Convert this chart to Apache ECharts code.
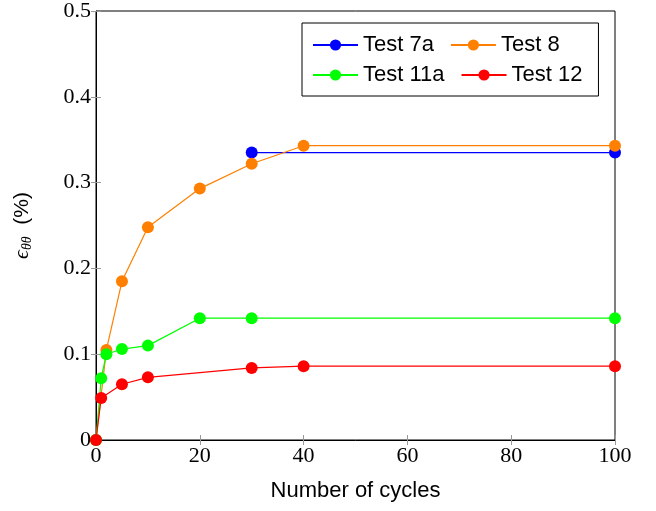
<!DOCTYPE html>
<html>
<head>
<meta charset="utf-8">
<script src="https://cdn.jsdelivr.net/npm/echarts@6/dist/echarts.min.js"></script>
<style>
  html, body { margin: 0; padding: 0; background: #fff; }
  #chart { width: 656px; height: 511px; }
</style>
</head>
<body>
<div id="chart"></div>
<script>
// data: [cycles, strain %]
const test7a = [[30, 0.335], [100, 0.335]];
const test8 = [[0, 0], [2, 0.105], [5, 0.185], [10, 0.248], [20, 0.293], [30, 0.322], [40, 0.343], [100, 0.343]];
const test11a = [[0, 0], [1, 0.072], [2, 0.100], [5, 0.106], [10, 0.110], [20, 0.142], [30, 0.142], [100, 0.142]];
const test12 = [[0, 0], [1, 0.049], [5, 0.065], [10, 0.073], [30, 0.084], [40, 0.086], [100, 0.086]];
const seriesNames = ['Test 7a', 'Test 8', 'Test 11a', 'Test 12'];
const seriesColors = ['#0000ff', '#ff8000', '#00ff00', '#ff0000'];

const serif = '"Liberation Serif", "DejaVu Serif", serif';
const sans = '"Liberation Sans", "DejaVu Sans", sans-serif';

const chart = echarts.init(document.getElementById('chart'));

function mkSeries(name, data, i) {
  return {
    name: name,
    type: 'line',
    data: data,
    symbol: 'circle',
    symbolSize: 12,
    showSymbol: true,
    lineStyle: { width: 1.2, color: seriesColors[i] },
    itemStyle: { color: seriesColors[i] },
    emphasis: { disabled: true },
    animation: false
  };
}

const tickStyle = { show: true, inside: true, length: 5, lineStyle: { color: '#999', width: 1 } };

const option = {
  animation: false,
  grid: {
    left: 96, right: 41, top: 10, bottom: 71,
    show: true, borderColor: '#000', borderWidth: 1
  },
  legend: {
    data: seriesNames,
    left: 302, top: 23,
    width: 300,
    orient: 'horizontal',
    padding: [11, 8, 10, 10],
    itemGap: 8,
    itemWidth: 45, itemHeight: 14,
    borderColor: '#000', borderWidth: 1,
    textStyle: { fontFamily: sans, fontSize: 22, lineHeight: 22, color: '#000', padding: [0, 8, 0, 0] }
  },
  xAxis: [{
    type: 'value', min: 0, max: 100, interval: 20,
    name: 'Number of cycles', nameLocation: 'middle', nameGap: 40,
    nameTextStyle: { fontFamily: sans, fontSize: 22, color: '#000' },
    axisLine: { show: true, lineStyle: { color: '#000' } },
    axisTick: tickStyle,
    axisLabel: { fontFamily: serif, fontSize: 22, color: '#000', margin: 5 },
    splitLine: { show: false }
  }, {
    type: 'value', min: 0, max: 100, interval: 20, position: 'top',
    axisLine: { show: false }, axisTick: tickStyle,
    axisLabel: { show: false }, splitLine: { show: false }
  }],
  yAxis: [{
    type: 'value', min: 0, max: 0.5, interval: 0.1,
    name: '{e|ϵ}{s|θθ}  (%)', nameLocation: 'middle', nameGap: 62,
    nameTextStyle: {
      fontFamily: sans, fontSize: 21, color: '#000',
      rich: {
        e: { fontFamily: serif, fontStyle: 'italic', fontSize: 22, color: '#000' },
        s: { fontFamily: serif, fontStyle: 'italic', fontSize: 14, color: '#000', padding: [10, 0, 0, 0] }
      }
    },
    axisLine: { show: true, lineStyle: { color: '#000' } },
    axisTick: tickStyle,
    axisLabel: {
      fontFamily: serif, fontSize: 22, color: '#000', margin: 5,
      formatter: function (v) { return v === 0 ? '0' : v.toFixed(1); }
    },
    splitLine: { show: false }
  }, {
    type: 'value', min: 0, max: 0.5, interval: 0.1, position: 'right',
    axisLine: { show: false }, axisTick: tickStyle,
    axisLabel: { show: false }, splitLine: { show: false }
  }],
  series: [
    mkSeries(seriesNames[0], test7a, 0),
    mkSeries(seriesNames[1], test8, 1),
    mkSeries(seriesNames[2], test11a, 2),
    mkSeries(seriesNames[3], test12, 3)
  ]
};

chart.setOption(option);
</script>
</body>
</html>
